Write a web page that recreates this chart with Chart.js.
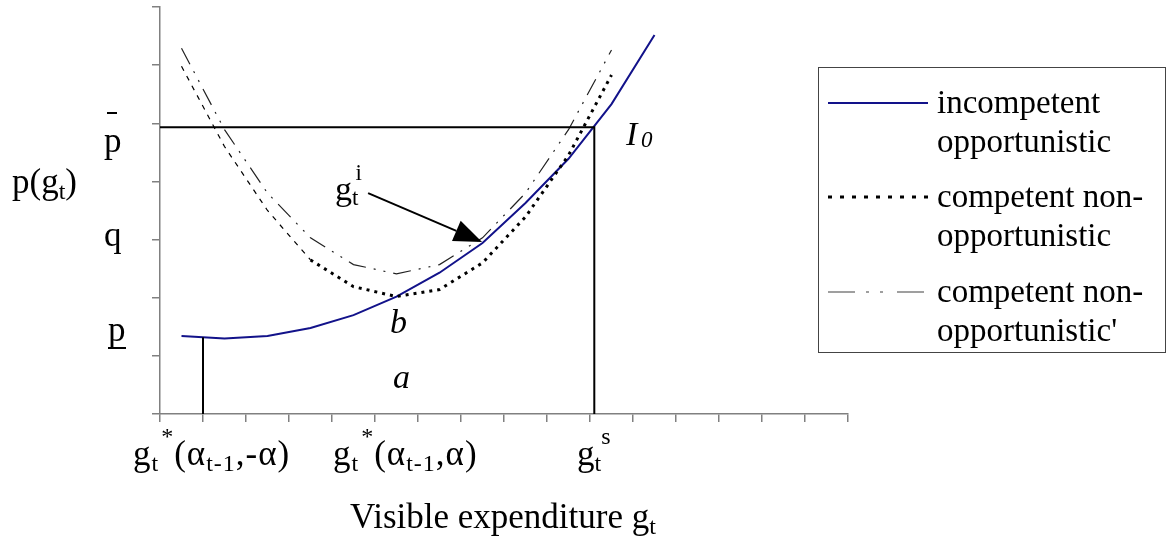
<!DOCTYPE html>
<html>
<head>
<meta charset="utf-8">
<script src="https://cdn.jsdelivr.net/npm/chart.js@4.4.0/dist/chart.umd.min.js"></script>
<style>
  body { margin: 0; background: #fff; }
  #wrap { width: 1168px; height: 538px; }
</style>
</head>
<body>
<div id="wrap"><canvas id="chart" width="1168" height="538"></canvas></div>
<script>
// ---- data (x in axis units, y in axis units) ----
const gValues = [0.5, 1.5, 2.5, 3.5, 4.5, 5.5, 6.5, 7.5, 8.5, 9.5, 10.5, 11.5];
const incompetent = [1.34, 1.30, 1.34, 1.48, 1.70, 2.02, 2.43, 2.94, 3.63, 4.39, 5.33, 6.52];
const competent = [5.98, 4.60, 3.50, 2.65, 2.19, 2.02, 2.14, 2.60, 3.39, 4.45, 5.83];
const competentAlt = [6.29, 4.89, 3.80, 3.03, 2.57, 2.41, 2.57, 3.03, 3.80, 4.89, 6.26];

const pBar = 4.93;      // upper price level
const gS = 10.1;        // g_t^s
const gLow = 1.0;       // g_t*(a_{t-1},-a)
const pLowAtGLow = 1.32;
const arrowFrom = [4.84, 3.80];
const arrowTo = [7.49, 2.96];

const legendLabels = [
  ['incompetent', 'opportunistic'],
  ['competent non-', 'opportunistic'],
  ['competent non-', "opportunistic'"]
];

const FONT = "'Liberation Serif', 'DejaVu Serif', serif";
const BLUE = '#12128a';

const pts = (ys) => ys.map((y, i) => ({ x: gValues[i], y: y }));

// draws text made of parts, one after another: {t}, {sub}, {sup}
function rich(ctx, parts, x, y, size, italic, spacing) {
  let cx = x;
  const small = Math.round(size * 0.68);
  const st = italic ? 'italic ' : '';
  ctx.letterSpacing = (spacing || 0) + 'px';
  parts.forEach(p => {
    if (p.t) {
      ctx.font = `${st}${size}px ${FONT}`;
      ctx.fillText(p.t, cx, y);
      cx += ctx.measureText(p.t).width;
    } else if (p.sub) {
      ctx.font = `${st}${small}px ${FONT}`;
      ctx.fillText(p.sub, cx, y + size * 0.16);
      cx += ctx.measureText(p.sub).width;
    } else if (p.sup) {
      cx += p.gap || 0;
      ctx.font = `${st}${small}px ${FONT}`;
      ctx.fillText(p.sup, cx, y - size * 0.6);
      cx += ctx.measureText(p.sup).width;
    }
  });
  ctx.letterSpacing = '0px';
  return cx;
}

const annotations = {
  id: 'annotations',
  afterDatasetsDraw(chart) {
    const ctx = chart.ctx;
    const xs = chart.scales.x, ys = chart.scales.y;
    ctx.save();
    // arrow
    const x0 = xs.getPixelForValue(arrowFrom[0]), y0 = ys.getPixelForValue(arrowFrom[1]);
    const x1 = xs.getPixelForValue(arrowTo[0]), y1 = ys.getPixelForValue(arrowTo[1]);
    const ang = Math.atan2(y1 - y0, x1 - x0);
    const len = 28, half = 11;
    const bx = x1 - len * Math.cos(ang), by = y1 - len * Math.sin(ang);
    ctx.strokeStyle = '#000';
    ctx.lineWidth = 2;
    ctx.beginPath();
    ctx.moveTo(x0, y0);
    ctx.lineTo(bx, by);
    ctx.stroke();
    ctx.fillStyle = '#000';
    ctx.beginPath();
    ctx.moveTo(x1, y1);
    ctx.lineTo(bx + half * Math.sin(ang), by - half * Math.cos(ang));
    ctx.lineTo(bx - half * Math.sin(ang), by + half * Math.cos(ang));
    ctx.closePath();
    ctx.fill();

    ctx.textBaseline = 'alphabetic';
    ctx.textAlign = 'left';
    // labels inside the plot
    rich(ctx, [{ t: 'g' }, { sub: 't' }, { sup: 'i', gap: -3 }], 335, 200, 34);
    rich(ctx, [{ t: 'b' }], 390, 333, 34, true);
    rich(ctx, [{ t: 'a' }], 393, 388, 34, true);
    ctx.font = `italic 34px ${FONT}`;
    ctx.fillText('I', 626, 145);
    ctx.font = `italic 23px ${FONT}`;
    ctx.fillText('0', 641, 147);

    // y-axis labels
    rich(ctx, [{ t: 'p(g' }, { sub: 't' }, { t: ')' }], 12, 193, 35);
    ctx.font = `35px ${FONT}`;
    ctx.fillText('p', 104, 152);
    ctx.fillRect(107, 112, 10, 2);
    ctx.fillText('q', 104, 246);
    ctx.fillText('p', 108, 341);
    ctx.fillRect(108, 347, 18, 2);

    // x-axis labels
    rich(ctx, [{ t: 'g' }, { sub: 't' }, { sup: '*', gap: 2 }, { t: '(\u03b1' }, { sub: 't-1' }, { t: ',-\u03b1)' }], 133, 465, 35, false, 1);
    rich(ctx, [{ t: 'g' }, { sub: 't' }, { sup: '*', gap: 2 }, { t: '(\u03b1' }, { sub: 't-1' }, { t: ',\u03b1)' }], 333, 465, 35, false, 1);
    rich(ctx, [{ t: 'g' }, { sub: 't' }, { sup: 's', gap: 0 }], 577, 465, 35);
    rich(ctx, [{ t: 'Visible expenditure g' }, { sub: 't' }], 350, 528, 35);

    // legend
    ctx.strokeStyle = '#444';
    ctx.lineWidth = 1;
    ctx.strokeRect(818.5, 67.5, 347, 285);
    const rows = [103, 197, 292];
    const styles = [
      { c: BLUE, w: 2, d: [] },
      { c: '#000', w: 3, d: [4, 8] },
      { c: '#808080', w: 1.5, d: [27, 11, 3, 11, 3, 14] }
    ];
    rows.forEach((ry, i) => {
      const s = styles[i];
      ctx.strokeStyle = s.c;
      ctx.lineWidth = s.w;
      ctx.setLineDash(s.d);
      ctx.beginPath();
      ctx.moveTo(828, ry);
      ctx.lineTo(928, ry);
      ctx.stroke();
      ctx.setLineDash([]);
      ctx.fillStyle = '#000';
      ctx.font = `33px ${FONT}`;
      ctx.fillText(legendLabels[i][0], 937, ry + 10);
      ctx.fillText(legendLabels[i][1], 937, ry + 49);
    });
    ctx.restore();
  }
};

new Chart(document.getElementById('chart'), {
  type: 'line',
  data: {
    datasets: [
      {
        label: 'bounds',
        data: [{ x: 0, y: pBar }, { x: gS, y: pBar }, { x: gS, y: 0 }],
        borderColor: '#000', borderWidth: 2, pointRadius: 0
      },
      {
        label: 'low',
        data: [{ x: gLow, y: 0 }, { x: gLow, y: pLowAtGLow }],
        borderColor: '#000', borderWidth: 2, pointRadius: 0
      },
      {
        label: legendLabels[2].join(' '),
        data: pts(competentAlt),
        borderColor: '#222', borderWidth: 1.2, pointRadius: 0,
        borderDash: [18, 8, 2, 8, 2, 8]
      },
      {
        label: legendLabels[1].join(' '),
        data: pts(competent),
        borderColor: '#000', pointRadius: 0,
        borderWidth: 3, borderDash: [3, 5],
        segment: {
          borderWidth: c => (c.p1.parsed.x <= 3.5 ? 1.2 : 3),
          borderDash: c => (c.p1.parsed.x <= 3.5 ? [5, 6] : [3, 5])
        }
      },
      {
        label: legendLabels[0].join(' '),
        data: pts(incompetent),
        borderColor: BLUE, borderWidth: 2, pointRadius: 0
      }
    ]
  },
  options: {
    responsive: false,
    animation: false,
    layout: { padding: { top: 7, right: 320, left: 0, bottom: 0 } },
    plugins: { legend: { display: false }, tooltip: { enabled: false } },
    scales: {
      x: {
        type: 'linear', min: 0, max: 16,
        ticks: { display: false, stepSize: 1 },
        grid: { drawOnChartArea: false, drawTicks: true, tickLength: 8, color: '#808080', lineWidth: 1.5 },
        border: { color: '#808080', width: 1.5 },
        afterFit: s => { s.height = 124; }
      },
      y: {
        type: 'linear', min: 0, max: 7,
        ticks: { display: false, stepSize: 1 },
        grid: { drawOnChartArea: false, drawTicks: true, tickLength: 8, color: '#808080', lineWidth: 1.5 },
        border: { color: '#808080', width: 1.5 },
        afterFit: s => { s.width = 160; }
      }
    }
  },
  plugins: [annotations]
});
</script>
</body>
</html>
